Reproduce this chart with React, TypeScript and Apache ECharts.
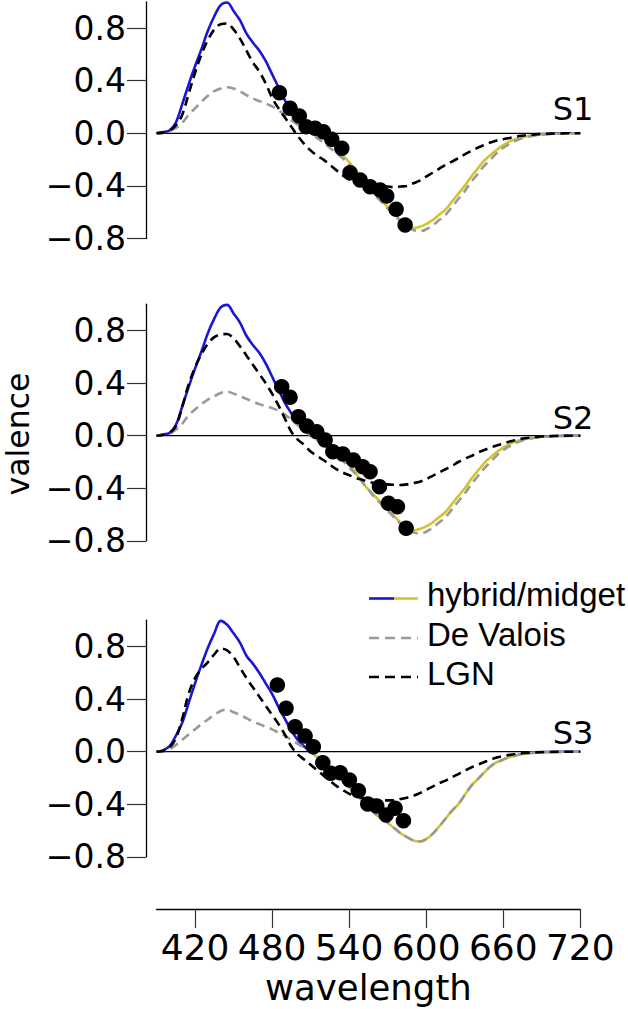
import React, { useEffect, useRef } from "react";
import * as echarts from "echarts";

// ---------- data ----------
const WAVELENGTHS = [
  390, 395, 400, 405, 410, 415, 420, 425, 430, 435,
  440, 445, 450, 455, 460, 465, 470, 475, 480, 485,
  490, 495, 500, 505, 510, 515, 520, 525, 530, 535,
  540, 545, 550, 555, 560, 565, 570, 575, 580, 585,
  590, 595, 600, 605, 610, 615, 620, 625, 630, 635,
  640, 645, 650, 655, 660, 665, 670, 675, 680, 685,
  690, 695, 700, 705, 710, 715, 720,
];

const HYBRID_S1 = [
  0, 0.01, 0.02, 0.08, 0.22, 0.37, 0.51, 0.64, 0.78, 0.89,
  0.975, 0.995, 0.93, 0.86, 0.76, 0.69, 0.63, 0.55, 0.45, 0.35,
  0.25, 0.17, 0.1, 0.05, 0.02, -0.005, -0.035, -0.07, -0.11, -0.165,
  -0.22, -0.28, -0.35, -0.41, -0.46, -0.51, -0.56, -0.61, -0.66, -0.7,
  -0.72, -0.71, -0.69, -0.66, -0.62, -0.58, -0.52, -0.46, -0.4, -0.33,
  -0.27, -0.21, -0.165, -0.125, -0.09, -0.062, -0.043, -0.029, -0.019, -0.012,
  -0.008, -0.005, -0.003, -0.002, -0.001, 0, 0,
];
const HYBRID_S2 = HYBRID_S1;
const HYBRID_S3 = [
  0, 0.01, 0.04, 0.12, 0.22, 0.37, 0.52, 0.66, 0.79, 0.9,
  0.995, 0.965, 0.9, 0.83, 0.73, 0.67, 0.6, 0.52, 0.44, 0.34,
  0.25, 0.16, 0.09, 0.04, 0, -0.04, -0.08, -0.12, -0.17, -0.22,
  -0.27, -0.32, -0.37, -0.42, -0.47, -0.51, -0.54, -0.58, -0.62, -0.65,
  -0.675, -0.683, -0.665, -0.625, -0.57, -0.51, -0.45, -0.4, -0.33, -0.26,
  -0.21, -0.16, -0.113, -0.08, -0.06, -0.04, -0.027, -0.017, -0.011, -0.007,
  -0.004, -0.003, -0.002, -0.001, 0, 0, 0,
];

const DEVALOIS_S1 = [
  0, 0.003, 0.015, 0.04, 0.08, 0.14, 0.19, 0.24, 0.285, 0.32,
  0.34, 0.35, 0.34, 0.32, 0.29, 0.265, 0.245, 0.225, 0.205, 0.175,
  0.14, 0.1, 0.065, 0.03, 0, -0.035, -0.07, -0.11, -0.15, -0.19,
  -0.24, -0.29, -0.35, -0.41, -0.47, -0.52, -0.57, -0.62, -0.67, -0.71,
  -0.735, -0.745, -0.73, -0.7, -0.66, -0.62, -0.56, -0.5, -0.44, -0.37,
  -0.31, -0.25, -0.2, -0.15, -0.11, -0.08, -0.055, -0.037, -0.025, -0.016,
  -0.01, -0.006, -0.004, -0.002, -0.001, 0, 0,
];
const DEVALOIS_S2 = [
  0, 0.005, 0.015, 0.045, 0.09, 0.155, 0.2, 0.24, 0.275, 0.3,
  0.325, 0.335, 0.32, 0.3, 0.28, 0.26, 0.24, 0.225, 0.21, 0.19,
  0.16, 0.12, 0.08, 0.04, 0, -0.035, -0.07, -0.11, -0.15, -0.19,
  -0.24, -0.29, -0.35, -0.41, -0.47, -0.52, -0.57, -0.62, -0.67, -0.71,
  -0.735, -0.745, -0.73, -0.7, -0.66, -0.62, -0.56, -0.5, -0.44, -0.37,
  -0.31, -0.25, -0.2, -0.15, -0.11, -0.08, -0.055, -0.037, -0.025, -0.016,
  -0.01, -0.006, -0.004, -0.002, -0.001, 0, 0,
];
const DEVALOIS_S3 = [
  0, 0, 0.02, 0.05, 0.09, 0.13, 0.17, 0.21, 0.245, 0.28,
  0.31, 0.32, 0.3, 0.28, 0.255, 0.23, 0.21, 0.19, 0.17, 0.145,
  0.12, 0.09, 0.06, 0.03, 0, -0.04, -0.08, -0.12, -0.17, -0.22,
  -0.27, -0.32, -0.37, -0.42, -0.47, -0.51, -0.54, -0.58, -0.62, -0.65,
  -0.675, -0.683, -0.665, -0.625, -0.57, -0.51, -0.45, -0.4, -0.33, -0.26,
  -0.21, -0.16, -0.113, -0.08, -0.06, -0.04, -0.027, -0.017, -0.011, -0.007,
  -0.004, -0.003, -0.002, -0.001, 0, 0, 0,
];

const LGN_S1 = [
  0, 0.005, 0.02, 0.06, 0.14, 0.3, 0.46, 0.6, 0.71, 0.79,
  0.83, 0.835, 0.79, 0.72, 0.63, 0.54, 0.47, 0.38, 0.27, 0.19,
  0.12, 0.05, -0.02, -0.08, -0.13, -0.17, -0.2, -0.24, -0.28, -0.32,
  -0.35, -0.37, -0.38, -0.39, -0.395, -0.4, -0.405, -0.41, -0.405, -0.4,
  -0.38, -0.36, -0.33, -0.3, -0.27, -0.24, -0.215, -0.19, -0.16, -0.135,
  -0.11, -0.09, -0.07, -0.055, -0.045, -0.035, -0.025, -0.018, -0.012, -0.008,
  -0.005, -0.003, -0.002, -0.001, 0, 0, 0,
];
const LGN_S2 = [
  0, 0.005, 0.02, 0.07, 0.22, 0.39, 0.52, 0.62, 0.7, 0.75,
  0.77, 0.773, 0.74, 0.68, 0.61, 0.54, 0.47, 0.4, 0.32, 0.23,
  0.13, 0.03, -0.03, -0.07, -0.12, -0.155, -0.185, -0.22, -0.255, -0.28,
  -0.3, -0.32, -0.335, -0.35, -0.36, -0.365, -0.37, -0.373, -0.375, -0.37,
  -0.36, -0.35, -0.33, -0.305, -0.28, -0.255, -0.23, -0.2, -0.175, -0.155,
  -0.13, -0.11, -0.09, -0.075, -0.06, -0.045, -0.033, -0.022, -0.015, -0.01,
  -0.006, -0.004, -0.002, -0.001, 0, 0, 0,
];
const LGN_S3 = [
  0, 0.005, 0.03, 0.1, 0.25, 0.44, 0.56, 0.63, 0.68, 0.74,
  0.785, 0.77, 0.72, 0.64, 0.56, 0.49, 0.42, 0.35, 0.28, 0.21,
  0.13, 0.04, -0.02, -0.06, -0.1, -0.14, -0.18, -0.22, -0.26, -0.29,
  -0.32, -0.335, -0.35, -0.36, -0.367, -0.37, -0.37, -0.368, -0.36, -0.35,
  -0.335, -0.315, -0.29, -0.265, -0.24, -0.22, -0.195, -0.17, -0.145, -0.12,
  -0.1, -0.08, -0.06, -0.045, -0.033, -0.024, -0.017, -0.012, -0.008, -0.005,
  -0.003, -0.002, -0.001, 0, 0, 0, 0,
];

const DOTS_S1_X = [485.7, 494.0, 501.2, 506.5, 513.5, 519.9, 526.5, 534.3, 540.7, 548.5, 556.3, 564.1, 569.3, 576.6, 583.6];
const DOTS_S1_Y = [0.309, 0.19, 0.132, 0.05, 0.038, 0.012, -0.046, -0.114, -0.3, -0.355, -0.406, -0.431, -0.477, -0.578, -0.697];
const DOTS_S2_X = [487.5, 494.0, 500.5, 507.0, 514.8, 521.3, 527.3, 535.1, 543.3, 550.6, 556.3, 563.6, 570.6, 577.6, 584.4];
const DOTS_S2_Y = [0.373, 0.292, 0.145, 0.074, 0.03, -0.033, -0.122, -0.139, -0.185, -0.236, -0.274, -0.388, -0.514, -0.54, -0.704];
const DOTS_S3_X = [484.1, 490.9, 497.9, 505.7, 512.1, 519.5, 525.7, 533.0, 540.2, 547.2, 554.5, 561.5, 568.8, 575.8, 582.3];
const DOTS_S3_Y = [0.507, 0.33, 0.19, 0.119, 0.038, -0.084, -0.164, -0.16, -0.215, -0.297, -0.398, -0.413, -0.481, -0.43, -0.525];

const PANEL_NAMES = ["S1", "S2", "S3"];
const X_TICKS = [420, 480, 540, 600, 660, 720];
const Y_TICKS = [-0.8, -0.4, 0, 0.4, 0.8];
const X_RANGE = [390, 720];
const Y_RANGE = [-0.8, 1.0];
const BASELINE_X = [390, 720];
const LEGEND_LABELS = ["hybrid/midget", "De Valois", "LGN"];

// ---------- styling / layout ----------
const BLUE = "#1a16d6";
const YELLOW = "#cfc52c";
const GRAY = "#999999";
const BLACK = "#000000";
const DASH = [9, 5.5];
const LW = 2.6;

const PANELS = [
  { hybrid: HYBRID_S1, dv: DEVALOIS_S1, lgn: LGN_S1, dx: DOTS_S1_X, dy: DOTS_S1_Y },
  { hybrid: HYBRID_S2, dv: DEVALOIS_S2, lgn: LGN_S2, dx: DOTS_S2_X, dy: DOTS_S2_Y },
  { hybrid: HYBRID_S3, dv: DEVALOIS_S3, lgn: LGN_S3, dx: DOTS_S3_X, dy: DOTS_S3_Y },
];
const GRID_TOPS = [1.8, 304.2, 620.2];
const GRID_H = 236.7;
const GRID_LEFT = 156.5;
const GRID_RIGHT = 47.7;
const S_LABEL_Y = [108.6, 417.6, 733.3];

const pairs = (xs: number[], ys: number[]) => xs.map((x, i) => [x, ys[i]]);
const fmtY = (v: number) => {
  const r = Math.round(v * 10) / 10;
  return (r < 0 ? "\u2212" : "") + Math.abs(r).toFixed(1);
};

// blue above zero, yellow below: hard stop at the zero line of each panel
const zeroFrac = Y_RANGE[1] / (Y_RANGE[1] - Y_RANGE[0]);
const hybridGradient = (top: number) => ({
  type: "linear",
  x: 0,
  y: top,
  x2: 0,
  y2: top + GRID_H,
  global: true,
  colorStops: [
    { offset: 0, color: BLUE },
    { offset: zeroFrac, color: BLUE },
    { offset: zeroFrac, color: YELLOW },
    { offset: 1, color: YELLOW },
  ],
});

function buildOption() {
  const grid = GRID_TOPS.map((t) => ({
    left: GRID_LEFT,
    right: GRID_RIGHT,
    top: t,
    height: GRID_H,
    containLabel: false,
  }));

  const xAxis = GRID_TOPS.map((_, i) => {
    const last = i === GRID_TOPS.length - 1;
    return {
      type: "value",
      gridIndex: i,
      min: X_RANGE[0],
      max: X_RANGE[1],
      show: last,
      position: "bottom",
      offset: 52,
      splitLine: { show: false },
      axisLine: { show: true, onZero: false, lineStyle: { color: BLACK, width: 1.3 } },
      axisTick: {
        show: true,
        customValues: X_TICKS,
        length: 19,
        inside: false,
        lineStyle: { color: "#333", width: 1.2 },
      },
      axisLabel: {
        show: true,
        customValues: X_TICKS,
        fontSize: 36,
        fontFamily: "DejaVu Sans",
        color: BLACK,
        margin: 21,
      },
      name: last ? "wavelength" : "",
      nameLocation: "middle",
      nameGap: 61,
      nameTextStyle: { fontSize: 35.5, fontFamily: "DejaVu Sans", color: BLACK },
    };
  });

  const yAxis = GRID_TOPS.map((_, i) => ({
    type: "value",
    gridIndex: i,
    min: Y_RANGE[0],
    max: Y_RANGE[1],
    offset: 10.5,
    splitLine: { show: false },
    axisLine: { show: true, onZero: false, lineStyle: { color: BLACK, width: 1.3 } },
    axisTick: {
      show: true,
      customValues: Y_TICKS,
      length: 19,
      inside: false,
      lineStyle: { color: "#333", width: 1.2 },
    },
    axisLabel: {
      show: true,
      customValues: Y_TICKS,
      formatter: (v: number) => fmtY(v),
      fontSize: 33,
      fontFamily: "DejaVu Sans",
      color: BLACK,
      margin: 20,
    },
  }));

  const series: any[] = [];
  PANELS.forEach((p, i) => {
    series.push({
      type: "line",
      xAxisIndex: i,
      yAxisIndex: i,
      data: [[BASELINE_X[0], 0], [BASELINE_X[1], 0]],
      showSymbol: false,
      silent: true,
      lineStyle: { color: BLACK, width: 1.3 },
      z: 1,
    });
    series.push({
      type: "line",
      name: "hybrid/midget",
      xAxisIndex: i,
      yAxisIndex: i,
      data: pairs(WAVELENGTHS, p.hybrid),
      showSymbol: false,
      smooth: 0.35,
      lineStyle: { width: LW, color: hybridGradient(GRID_TOPS[i]) },
      z: 2,
    });
    series.push({
      type: "line",
      name: "De Valois",
      xAxisIndex: i,
      yAxisIndex: i,
      data: pairs(WAVELENGTHS, p.dv),
      showSymbol: false,
      smooth: 0.35,
      lineStyle: { width: LW, color: GRAY, type: DASH },
      itemStyle: { color: GRAY },
      z: 3,
    });
    series.push({
      type: "line",
      name: "LGN",
      xAxisIndex: i,
      yAxisIndex: i,
      data: pairs(WAVELENGTHS, p.lgn),
      showSymbol: false,
      smooth: 0.35,
      lineStyle: { width: LW, color: BLACK, type: DASH },
      itemStyle: { color: BLACK },
      z: 4,
    });
    series.push({
      type: "scatter",
      xAxisIndex: i,
      yAxisIndex: i,
      data: pairs(p.dx, p.dy),
      symbol: "circle",
      symbolSize: 15.5,
      itemStyle: { color: BLACK, opacity: 1 },
      z: 5,
    });
  });

  const rowsY = [598.5, 638, 677];
  const textY = [594, 634, 673];
  const graphic: any[] = [
    {
      type: "text",
      x: 18,
      y: 434,
      rotation: Math.PI / 2,
      style: {
        text: "valence",
        font: '31.5px "DejaVu Sans"',
        fill: BLACK,
        align: "center",
        verticalAlign: "middle",
      },
    },
    ...PANEL_NAMES.map((n, i) => ({
      type: "text",
      x: 593.3,
      y: S_LABEL_Y[i],
      style: {
        text: n,
        font: '32px "DejaVu Sans"',
        fill: BLACK,
        align: "right",
        verticalAlign: "middle",
      },
    })),
    {
      type: "line",
      shape: { x1: 369, y1: rowsY[0], x2: 394, y2: rowsY[0] },
      style: { stroke: BLUE, lineWidth: LW },
    },
    {
      type: "line",
      shape: { x1: 394, y1: rowsY[0], x2: 418, y2: rowsY[0] },
      style: { stroke: YELLOW, lineWidth: LW },
    },
    {
      type: "line",
      shape: { x1: 369, y1: rowsY[1], x2: 418, y2: rowsY[1] },
      style: { stroke: GRAY, lineWidth: LW, lineDash: [10, 6] },
    },
    {
      type: "line",
      shape: { x1: 369, y1: rowsY[2], x2: 418, y2: rowsY[2] },
      style: { stroke: BLACK, lineWidth: LW, lineDash: [10, 6] },
    },
    ...LEGEND_LABELS.map((t, i) => ({
      type: "text",
      x: 427,
      y: textY[i],
      style: {
        text: t,
        font: '33px "Liberation Sans"',
        fill: BLACK,
        align: "left",
        verticalAlign: "middle",
      },
    })),
  ];

  return {
    animation: false,
    backgroundColor: "#ffffff",
    grid,
    xAxis,
    yAxis,
    series,
    graphic,
  };
}

export default function App() {
  const ref = useRef<HTMLDivElement>(null);
  useEffect(() => {
    if (!ref.current) return;
    const chart = echarts.init(ref.current, undefined, { renderer: "svg" });
    chart.setOption(buildOption() as any);
    return () => chart.dispose();
  }, []);
  return (
    <div
      ref={ref}
      style={{ position: "fixed", left: 0, top: 0, width: 628, height: 1009, background: "#fff" }}
    />
  );
}
